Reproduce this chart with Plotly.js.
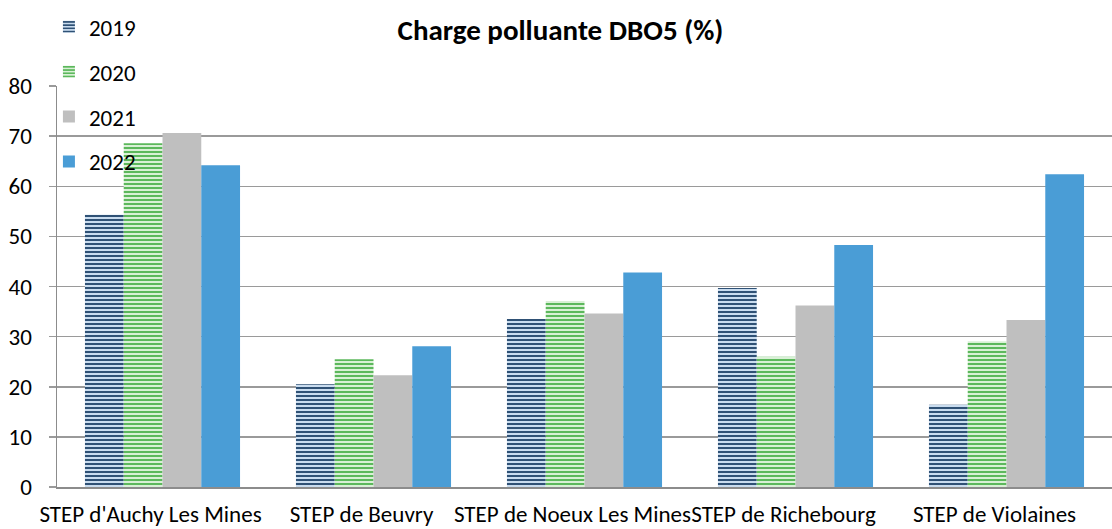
<!DOCTYPE html>
<html>
<head>
<meta charset="utf-8">
<script src="https://cdn.plot.ly/plotly-3.0.1.min.js"></script>
<style>html,body{margin:0;padding:0;background:#fff;}#chart{width:1112px;height:529px;}</style>
</head>
<body>
<div id="chart"></div>
<script>
const categories = ["STEP d'Auchy Les Mines", "STEP de Beuvry", "STEP de Noeux Les Mines", "STEP de Richebourg", "STEP de Violaines"];
const years = ["2019", "2020", "2021", "2022"];
const v2019 = [54.3, 20.5, 33.5, 39.7, 16.4];
const v2020 = [68.6, 25.5, 37.1, 26.0, 29.1];
const v2021 = [70.6, 22.3, 34.6, 36.2, 33.3];
const v2022 = [64.2, 28.1, 42.8, 48.3, 62.4];
const yTicks = [0, 10, 20, 30, 40, 50, 60, 70, 80];

const FONT = "Carlito, Calibri, Lato, 'Open Sans', sans-serif";
const series = [v2019, v2020, v2021, v2022];
const styles = [
  {color: '#c9dcef', pattern: {shape: '-', fgcolor: '#2f5175', bgcolor: '#c9dcef', size: 4, solidity: 0.5}},
  {color: '#d9f0d6', pattern: {shape: '-', fgcolor: '#5cb85c', bgcolor: '#d9f0d6', size: 4, solidity: 0.5}},
  {color: '#bfbfbf'},
  {color: '#4a9dd6'}
];

const traces = series.map((vals, i) => ({
  type: 'bar',
  name: years[i],
  x: categories,
  y: vals,
  legendgroup: 'g' + i,
  marker: Object.assign({line: {width: 0}}, styles[i]),
  hoverinfo: 'x+y+name'
}));

const layout = {
  width: 1112,
  height: 529,
  margin: {l: 57, r: 0, t: 86, b: 42, autoexpand: false},
  paper_bgcolor: '#ffffff',
  plot_bgcolor: '#ffffff',
  font: {family: FONT, size: 23, color: '#000000'},
  title: {
    text: '<b>Charge polluante DBO5 (%)</b>',
    font: {family: FONT, size: 29, color: '#000000'},
    x: 0.504, xref: 'container', xanchor: 'center',
    y: 0.943, yref: 'container', yanchor: 'middle'
  },
  barmode: 'group',
  bargap: 0.265,
  bargroupgap: 0,
  xaxis: {
    type: 'category',
    showgrid: false,
    showline: true,
    linecolor: '#8c8c8c',
    linewidth: 1.5,
    ticks: '',
    tickangle: 0,
    ticklabelshift: -12,
    ticklabelstandoff: 6,
    tickfont: {family: FONT, size: 23, color: '#000'},
    automargin: false
  },
  yaxis: {
    range: [0, 80],
    tickvals: yTicks,
    showgrid: true,
    gridcolor: '#9a9a9a',
    gridwidth: 1.5,
    zeroline: false,
    showline: true,
    linecolor: '#8c8c8c',
    linewidth: 1.5,
    ticks: 'outside',
    ticklen: 7,
    tickcolor: '#9a9a9a',
    tickwidth: 1.5,
    ticklabelstandoff: 12,
    tickfont: {family: FONT, size: 23, color: '#000'},
    automargin: false
  },
  showlegend: true,
  legend: {
    orientation: 'v',
    xref: 'container', yref: 'container',
    x: 0.044, xanchor: 'left',
    y: 0.99, yanchor: 'top',
    bgcolor: 'rgba(0,0,0,0)',
    tracegroupgap: 12,
    font: {family: FONT, size: 23, color: '#000'},
    traceorder: 'grouped'
  }
};

Plotly.newPlot('chart', traces, layout, {displayModeBar: false, staticPlot: true});
</script>
</body>
</html>
